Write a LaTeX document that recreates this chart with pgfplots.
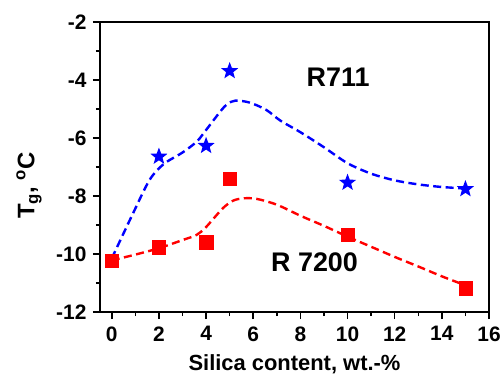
\documentclass[border=0pt]{standalone}
\usepackage{pgfplots}
\pgfplotsset{compat=1.18}
\usepackage{fontspec}
\setmainfont{Liberation Sans}
\pgfdeclareplotmark{fstar}{%
  \pgfpathmoveto{\pgfpointpolar{90}{\pgfplotmarksize}}%
  \pgfpathlineto{\pgfpointpolar{126}{0.42\pgfplotmarksize}}%
  \pgfpathlineto{\pgfpointpolar{162}{\pgfplotmarksize}}%
  \pgfpathlineto{\pgfpointpolar{198}{0.42\pgfplotmarksize}}%
  \pgfpathlineto{\pgfpointpolar{234}{\pgfplotmarksize}}%
  \pgfpathlineto{\pgfpointpolar{270}{0.42\pgfplotmarksize}}%
  \pgfpathlineto{\pgfpointpolar{306}{\pgfplotmarksize}}%
  \pgfpathlineto{\pgfpointpolar{342}{0.42\pgfplotmarksize}}%
  \pgfpathlineto{\pgfpointpolar{18}{\pgfplotmarksize}}%
  \pgfpathlineto{\pgfpointpolar{54}{0.42\pgfplotmarksize}}%
  \pgfpathclose
  \pgfusepathqfill
}
\begin{document}
\begin{tikzpicture}
\begin{axis}[
  scale only axis, width=389bp, height=290bp,
  xmin=-0.5, xmax=16, ymin=-12, ymax=-2,
  xtick={0,2,...,16}, ytick={-12,-10,...,-2},
  minor xtick={1,3,...,15}, minor ytick={-11,-9,...,-3},
  tick align=outside, tick pos=left,
  major tick length=7bp, minor tick length=4bp,
  every tick/.style={black, line width=1.5bp},
  axis line style={line width=1.8bp},
  /pgf/number format/assume math mode=true,
  ticklabel style={font=\fontsize{21}{21}\selectfont\bfseries},
  xticklabel style={yshift=-4bp},
  yticklabel style={xshift=-3bp},
  xlabel={Silica content, wt.-\%},
  xlabel style={font=\fontsize{22}{22}\selectfont\bfseries, yshift=-6bp},
  ylabel={T\textsubscript{g}, \textsuperscript{o}C},
  ylabel style={font=\fontsize{24}{24}\selectfont\bfseries, at={(axis description cs:-0.1825,0.436)}, anchor=center},
  clip=false,
]
\addplot[blue, line width=2.4bp, dash pattern=on 8bp off 4.5bp, smooth] coordinates {
 (0,-10.15) (0.9,-8.6) (1.6,-7.45) (2.2,-6.9) (3,-6.5) (3.6,-6.13) (3.9,-5.83) (4.6,-5.09)
 (4.9,-4.83) (5.25,-4.71) (5.85,-4.78) (6.55,-5.03) (7.15,-5.4) (8,-5.8) (9,-6.32) (10,-6.87)
 (11,-7.23) (12,-7.46) (13,-7.6) (14,-7.69) (15,-7.74)};
\addplot[red, line width=2.4bp, dash pattern=on 8bp off 4.5bp, smooth] coordinates {
 (0,-10.22) (1,-10.02) (2,-9.8) (3,-9.52) (3.6,-9.34) (4,-9.07) (4.7,-8.43) (5.15,-8.16)
 (5.6,-8.08) (6.15,-8.1) (7,-8.3) (8,-8.68) (9,-9.03) (10,-9.4) (11,-9.75) (12,-10.1)
 (13,-10.43) (14,-10.77) (15,-11.08)};
\addplot[only marks, mark=fstar, mark size=9bp, blue] coordinates {
 (2,-6.64) (4,-6.27) (5,-3.69) (10,-7.54) (15,-7.76)};
\addplot[only marks, mark=square*, mark size=6.7bp, red] coordinates {
 (0,-10.24) (2,-9.77) (4,-9.6) (5,-7.41) (10,-9.34) (15,-11.18)};
\node[font=\fontsize{27}{27}\selectfont\bfseries] at (axis cs:9.6,-3.9) {R711};
\node[font=\fontsize{27}{27}\selectfont\bfseries] at (axis cs:8.6,-10.3) {R 7200};
\end{axis}
\pgfresetboundingbox
\path ([xshift=-100bp,yshift=-64bp]current axis.south west) rectangle ([xshift=14bp,yshift=22bp]current axis.north east);
\end{tikzpicture}
\end{document}
